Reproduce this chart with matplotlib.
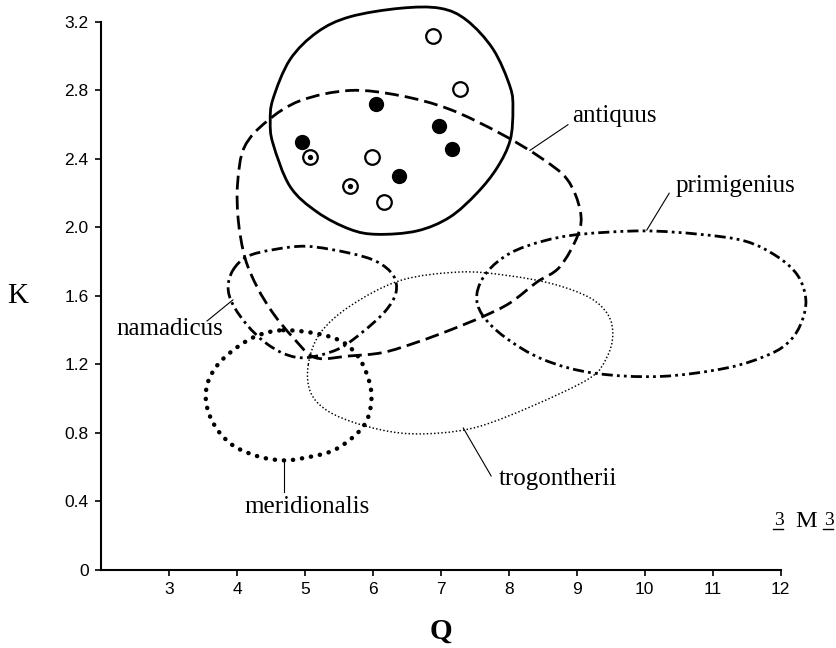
import numpy as np
import matplotlib
matplotlib.use("Agg")
import matplotlib.pyplot as plt
from matplotlib.path import Path
from matplotlib.patches import PathPatch

# ---- specimen measurements (Q, K) ----
filled_q = [6.05, 6.98, 7.17, 4.95, 6.39]
filled_k = [2.72, 2.59, 2.46, 2.50, 2.30]
open_q = [5.98, 6.16, 7.28, 6.89]
open_k = [2.41, 2.15, 2.81, 3.12]
dotted_q = [5.07, 5.66]
dotted_k = [2.41, 2.24]

# ---- group outlines (boundary points, Q / K) ----
sample_q = [4.49, 4.53, 4.78, 5.18, 5.66, 6.40, 6.99, 7.38, 7.77, 8.02, 8.06,
            8.02, 7.83, 7.53, 7.13, 6.65, 6.06, 5.66, 5.18, 4.78, 4.53]
sample_k = [2.62, 2.75, 2.98, 3.14, 3.23, 3.28, 3.28, 3.21, 3.04, 2.82, 2.69,
            2.51, 2.35, 2.20, 2.06, 1.98, 1.96, 1.99, 2.09, 2.24, 2.49]

antiquus_q = [4.11, 4.44, 4.93, 5.66, 6.40, 7.13, 7.87, 8.46, 8.86, 9.05, 9.02,
              8.75, 8.41, 8.02, 7.62, 7.13, 6.65, 6.15, 5.66, 5.15, 4.82, 4.53,
              4.30, 4.12, 4.02, 4.01]
antiquus_k = [2.47, 2.62, 2.74, 2.80, 2.77, 2.69, 2.55, 2.41, 2.28, 2.10, 1.96,
              1.77, 1.68, 1.56, 1.48, 1.40, 1.33, 1.27, 1.25, 1.24, 1.36, 1.50,
              1.65, 1.82, 2.04, 2.26]

namadicus_q = [3.94, 4.15, 4.53, 5.03, 5.66, 6.06, 6.30, 6.34, 6.18, 5.85,
               5.49, 5.03, 4.71, 4.41, 4.15, 3.94, 3.87]
namadicus_k = [1.75, 1.83, 1.87, 1.89, 1.85, 1.80, 1.72, 1.62, 1.51, 1.39,
               1.29, 1.24, 1.26, 1.33, 1.43, 1.55, 1.65]

meridionalis_q = [4.68, 5.18, 5.56, 5.81, 5.96, 5.97, 5.88, 5.66, 5.37, 4.93,
                  4.68, 4.34, 3.97, 3.71, 3.56, 3.56, 3.72, 4.00, 4.31]
meridionalis_k = [1.40, 1.38, 1.33, 1.23, 1.08, 0.96, 0.85, 0.76, 0.69, 0.65,
                  0.64, 0.66, 0.72, 0.82, 0.95, 1.08, 1.20, 1.30, 1.37]

trogontherii_q = [5.05, 5.22, 5.66, 6.40, 7.28, 7.97, 8.65, 9.19, 9.46, 9.53,
                  9.44, 9.19, 8.36, 7.58, 6.99, 6.40, 5.81, 5.33, 5.08]
trogontherii_k = [1.20, 1.38, 1.54, 1.69, 1.74, 1.72, 1.67, 1.59, 1.49, 1.37,
                  1.24, 1.12, 0.96, 0.84, 0.80, 0.80, 0.85, 0.93, 1.04]

primigenius_q = [7.53, 7.68, 8.02, 8.50, 9.05, 9.97, 10.81, 11.48, 11.95, 12.25,
                 12.37, 12.31, 12.14, 11.84, 11.21, 10.22, 9.24, 8.50, 7.94, 7.61]
primigenius_k = [1.61, 1.74, 1.85, 1.92, 1.96, 1.98, 1.96, 1.92, 1.83, 1.72,
                 1.58, 1.45, 1.34, 1.26, 1.18, 1.13, 1.15, 1.23, 1.36, 1.49]

x_ticks = [3, 4, 5, 6, 7, 8, 9, 10, 11, 12]
y_ticks = [0, 0.4, 0.8, 1.2, 1.6, 2.0, 2.4, 2.8, 3.2]
y_ticklabels = ["0", "0.4", "0.8", "1.2", "1.6", "2.0", "2.4", "2.8", "3.2"]

SERIF = ["Liberation Serif", "DejaVu Serif"]
SANS = ["Liberation Sans", "DejaVu Sans"]


def closed_outline(qs, ks):
    """Smooth closed curve through the given boundary points (Catmull-Rom as cubic Beziers)."""
    pts = np.column_stack([qs, ks]).astype(float)
    n = len(pts)
    verts = [pts[0]]
    codes = [Path.MOVETO]
    for i in range(n):
        p0, p1 = pts[i - 1], pts[i]
        p2, p3 = pts[(i + 1) % n], pts[(i + 2) % n]
        verts += [p1 + (p2 - p0) / 6.0, p2 - (p3 - p1) / 6.0, p2]
        codes += [Path.CURVE4] * 3
    return Path(verts, codes)


fig = plt.figure(figsize=(8.37, 6.48), dpi=100)
ax = fig.add_axes([0.1207, 0.1204, 0.8120, 0.8457])

outlines = [
    (sample_q, sample_k, dict(linestyle="-", linewidth=2.0)),
    (antiquus_q, antiquus_k, dict(linestyle=(0, (5, 2.2)), linewidth=2.0)),
    (namadicus_q, namadicus_k, dict(linestyle=(0, (4, 1.6, 1, 1.6)), linewidth=2.0)),
    (primigenius_q, primigenius_k,
     dict(linestyle=(0, (4, 1.5, 1, 1.5, 1, 1.5)), linewidth=2.0)),
    (meridionalis_q, meridionalis_k,
     dict(linestyle=(0, (0.05, 2.0)), linewidth=3.2, capstyle="round")),
    (trogontherii_q, trogontherii_k,
     dict(linestyle=(0, (1, 1.5)), linewidth=1.05)),
]
for qs, ks, style in outlines:
    ax.add_patch(PathPatch(closed_outline(qs, ks), fill=False, edgecolor="black",
                           clip_on=False, **style))

# specimens
ax.plot(filled_q, filled_k, "o", color="black", ms=11, mew=0, clip_on=False, zorder=5)
ax.plot(open_q, open_k, "o", mfc="white", mec="black", ms=10.5, mew=1.6,
        clip_on=False, zorder=5)
ax.plot(dotted_q, dotted_k, "o", mfc="white", mec="black", ms=10.5, mew=1.6,
        clip_on=False, zorder=5)
ax.plot(dotted_q, dotted_k, "o", color="black", ms=3.8, mew=0, clip_on=False, zorder=6)

# group labels with leader lines
labels = [
    ("antiquus", (8.31, 2.45), (8.87, 2.60), (9.56, 2.65)),
    ("primigenius", (10.03, 1.985), (10.36, 2.20), (11.34, 2.24)),
    ("namadicus", (3.94, 1.577), (3.56, 1.454), (3.01, 1.41)),
    ("meridionalis", (4.69, 0.642), (4.69, 0.455), (5.03, 0.37)),
    ("trogontherii", (7.33, 0.829), (7.74, 0.549), (8.72, 0.53)),
]
for text, start, end, pos in labels:
    ax.plot([start[0], end[0]], [start[1], end[1]], color="black", lw=0.8,
            clip_on=False)
    ax.text(pos[0], pos[1], text, ha="center", va="center", fontsize=18,
            family=SERIF, color="black")

# axes styling
ax.set_xlim(2, 12)
ax.set_ylim(0, 3.2)
ax.set_xticks(x_ticks)
ax.set_xticklabels([str(t) for t in x_ticks])
ax.set_yticks(y_ticks)
ax.set_yticklabels(y_ticklabels)
for side in ("top", "right"):
    ax.spines[side].set_visible(False)
for side in ("left", "bottom"):
    ax.spines[side].set_linewidth(1.5)
ax.tick_params(direction="out", length=4, width=1.2, labelsize=12.5, pad=5)
for lab in ax.get_xticklabels() + ax.get_yticklabels():
    lab.set_family(SANS)

fig.text(18 / 837, 1 - 296 / 648, "K", fontsize=21, family=SERIF,
         ha="center", va="center")
fig.text(441 / 837, 1 - 631 / 648, "Q", fontsize=21, family=SERIF,
         fontweight="bold", ha="center", va="center")

# tooth designation, upper and lower third molars
for txt, xc, size, base in (("3", 778.5, 14, 525), ("M", 806, 17.5, 527),
                            ("3", 828.5, 14, 525)):
    fig.text(xc / 837, 1 - base / 648, txt, fontsize=size, family=SERIF,
             ha="center", va="baseline")
for xc in (778.5, 828.5):
    fig.add_artist(plt.Line2D([(xc - 5) / 837, (xc + 5) / 837],
                              [1 - 529 / 648, 1 - 529 / 648],
                              transform=fig.transFigure, color="black", lw=1.0))

fig.savefig("out.png", dpi=100)
